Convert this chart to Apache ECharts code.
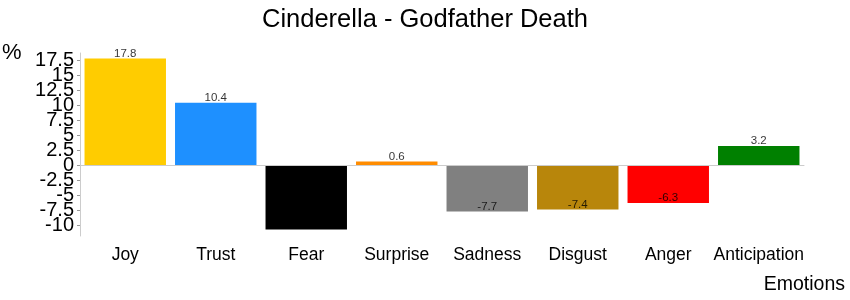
<!DOCTYPE html>
<html><head><meta charset="utf-8">
<script src="https://cdn.jsdelivr.net/npm/echarts@6/dist/echarts.min.js"></script>
<style>html,body{margin:0;padding:0;background:#fff}#c{width:850px;height:300px}</style>
</head><body><div id="c"></div>
<script>
const categories = ['Joy','Trust','Fear','Surprise','Sadness','Disgust','Anger','Anticipation'];
const values = [17.8, 10.4, -10.7, 0.6, -7.7, -7.4, -6.3, 3.2];
const colors = ['#FFCC00','#1E90FF','#000000','#FF8C00','#808080','#B8860B','#FF0000','#008000'];
const yTicks = [-10,-7.5,-5,-2.5,0,2.5,5,7.5,10,12.5,15,17.5];
const yTicksA = yTicks.filter((v,i)=>i%2===0);
const yTicksB = yTicks.filter((v,i)=>i%2===1);
const F = 'Liberation Sans, Arial, sans-serif';
const yMin = -11.8, yMax = 18.7;
function yAxisFor(ticks, showLine){
  return {type:'value',min:yMin,max:yMax,position:'left',
    axisLine:{show:showLine,lineStyle:{color:'#cccccc'}},
    axisTick:{show:true,length:3,customValues:ticks,lineStyle:{color:'#999'}},
    axisLabel:{hideOverlap:false,showMinLabel:true,showMaxLabel:true,fontFamily:F,fontSize:20,color:'#000',margin:6,customValues:ticks},
    splitLine:{show:false}};
}
const chart = echarts.init(document.getElementById('c'));
chart.setOption({
  animation:false,
  title:{text:'Cinderella - Godfather Death',left:'center',top:2,textStyle:{fontFamily:F,fontSize:25.5,fontWeight:'normal',color:'#000'}},
  grid:{left:80,right:46,top:53,bottom:64},
  graphic:[
    {type:'text',left:2,top:42,style:{text:'%',font:'22px '+F,fill:'#000'}},
    {type:'text',right:5,top:275,style:{text:'Emotions',font:'19.5px '+F,fill:'#000'}}
  ],
  xAxis:{type:'category',data:categories,
    axisLine:{lineStyle:{color:'#cccccc'}},
    axisTick:{alignWithLabel:true,interval:0,length:4,lineStyle:{color:'#999'}},
    axisLabel:{interval:0,hideOverlap:false,fontFamily:F,fontSize:17.5,color:'#000',margin:10}},
  yAxis:[yAxisFor(yTicksA,true), yAxisFor(yTicksB,false)],
  series:[
    {type:'bar',barWidth:'90%',yAxisIndex:0,
      data:values.map((v,i)=>({value:v,itemStyle:{color:colors[i]}})),
      label:{show:false},
      markLine:{silent:true,symbol:'none',label:{show:false},lineStyle:{color:'#cccccc',type:'solid',width:1},data:[{yAxis:0}]}
    },
    {type:'scatter',yAxisIndex:0,data:values.map((v,i)=>[i,v]),symbolSize:0,silent:true,
      label:{show:true,position:'inside',offset:[0,-5],fontFamily:F,fontSize:11.5,color:'#000',formatter:p=>p.value[1]}
    }
  ]
});
</script></body></html>
